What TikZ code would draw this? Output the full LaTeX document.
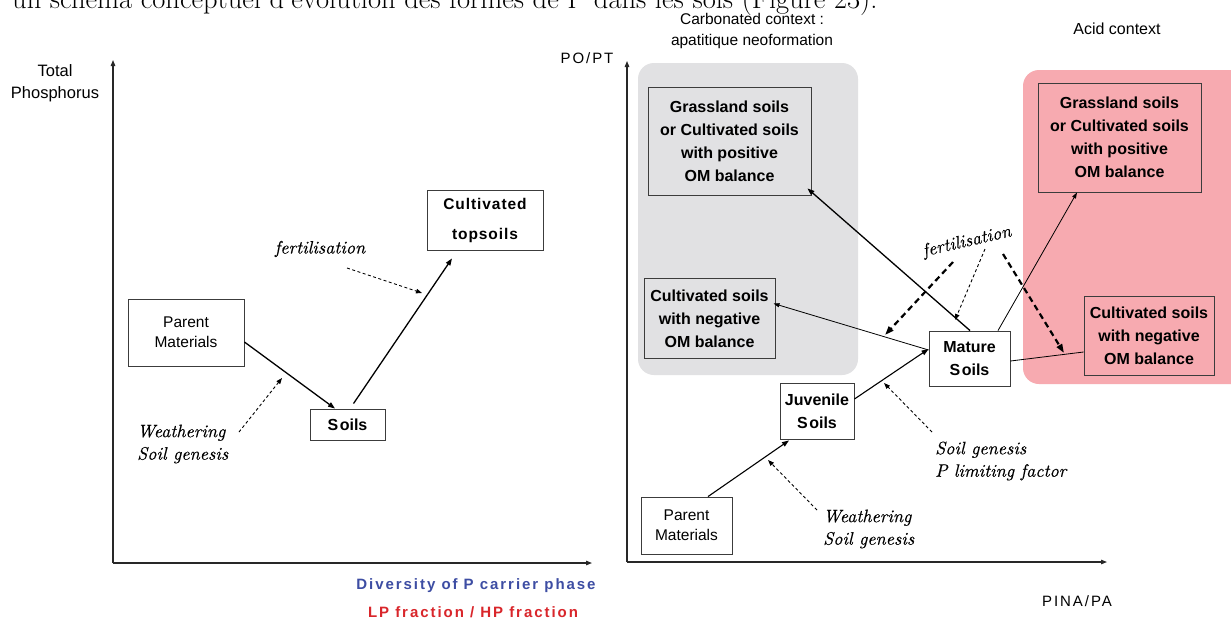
\documentclass[tikz,border=0pt]{standalone}
\usepackage{fontspec}
\usetikzlibrary{arrows.meta}
\newfontfamily\arialf{Liberation Sans}
\newfontfamily\arialls[LetterSpace=13]{Liberation Sans}
\newfontfamily\arialbls[LetterSpace=6]{Liberation Sans}
\newfontfamily\itf[FakeBold=0.3]{lmroman10-italic.otf}
\definecolor{greyreg}{RGB}{225,225,227}
\definecolor{pinkreg}{RGB}{247,170,176}
\definecolor{boxc}{RGB}{60,60,60}
\definecolor{axisc}{RGB}{40,40,40}
\definecolor{bluet}{RGB}{61,77,163}
\definecolor{redt}{RGB}{217,38,43}
\tikzset{
  box/.style={draw=boxc, line width=0.9pt, inner sep=0pt, align=center, text=black},
  wbox/.style={box, fill=white},
  bt/.style={font={\arialf\bfseries\fontsize{16}{23}\selectfont}},
  rt/.style={font={\arialf\fontsize{15.5}{20}\selectfont}},
  lab/.style={font={\arialf\fontsize{16}{21}\selectfont}, align=center, inner sep=0pt},
  it/.style={font={\itf\fontsize{18}{22.5}\selectfont}, align=left, inner sep=0pt},
  axis/.style={draw=axisc, line width=1.2pt, -{Triangle[length=6pt,width=4.5pt]}},
  conn/.style={draw=black, line width=1.3pt, -{Triangle[length=7pt,width=5pt]}},
  thin/.style={draw=black, line width=0.8pt, -{Triangle[length=6pt,width=4pt]}},
  dsh/.style={draw=black, line width=0.9pt, dash pattern=on 3pt off 2.5pt, -{Triangle[length=6pt,width=4.5pt]}},
  tdsh/.style={draw=black, line width=2.2pt, dash pattern=on 6pt off 4pt, -{Triangle[length=9pt,width=6pt]}},
  region/.style={rounded corners=16pt, draw=none}
}
\begin{document}
\begin{tikzpicture}[x=1pt,y=-1pt]
\useasboundingbox (0,0) rectangle (1231,619);
\clip (0,0) rectangle (1231,619);
\fill[white] (0,0) rectangle (1231,619);
% cut-off caption line at the top
\node[anchor=base west, inner sep=0pt, font={\fontsize{28.5}{32}\selectfont}] (cap) at (12,8) {un schéma conceptuel d'évolution des formes de P dans les sols (Figure 23).};
% regions
\path[region, fill=greyreg] (638,63) rectangle (858,375);
\path[region, fill=pinkreg] (1023,70) rectangle (1250,384);
% ---------------- left panel ----------------
\coordinate (lo) at (113,563);
\coordinate (ly) at (113,60);
\coordinate (lx) at (592,563);
\draw[axis] (lo) -- (ly);
\draw[axis] (lo) -- (lx);
\node[lab, font={\arialf\fontsize{16.5}{22}\selectfont}] (ltp) at (55,83) {Total\\Phosphorus};
\node[wbox, rt, minimum width=116pt, minimum height=67pt] (lpm) at (186,332.5) {Parent\\Materials};
\node[wbox, bt, minimum width=75pt, minimum height=31pt] (lsoils) at (347.5,424.5) {S\kern1.5pt oils};
\node[wbox, font={\arialbls\bfseries\fontsize{15.5}{30}\selectfont}, minimum width=116pt, minimum height=60pt] (lcult) at (485,220) {Cultivated\\topsoils};
\draw[conn] ([yshift=-9.5pt]lpm.east) -- ([xshift=-12.5pt]lsoils.north);
\draw[conn] ([xshift=6pt,yshift=5pt]lsoils.north) -- ([xshift=-33pt,yshift=-8pt]lcult.south);
\node[it] (lfert) at (320,249) {fertilisation};
\coordinate (lf1) at (347,268);
\coordinate (lf2) at (422,293);
\draw[dsh] (lf1) -- (lf2);
\node[it, anchor=west] (lweath) at (137,444) {Weathering\\Soil genesis};
\coordinate (lw1) at (239,432);
\coordinate (lw2) at (282,378);
\draw[dsh] (lw1) -- (lw2);
\node[font={\arialls\bfseries\fontsize{15}{18}\selectfont}, text=bluet, inner sep=0pt] (ldiv) at (476,586) {Diversity of P carrier phase};
\node[font={\arialls\bfseries\fontsize{15}{18}\selectfont}, text=redt, inner sep=0pt] (llp) at (473,612) {LP fraction / HP fraction};
% ---------------- right panel ----------------
\coordinate (ro) at (627,562);
\coordinate (ry) at (627,61);
\coordinate (rx) at (1107,562);
\draw[axis] (ro) -- (ry);
\draw[axis] (ro) -- (rx);
\node[font={\arialls\fontsize{15}{18}\selectfont}, inner sep=0pt] (rpo) at (587,58) {PO/PT};
\node[font={\arialls\fontsize{15}{18}\selectfont}, inner sep=0pt] (rpina) at (1077,601) {PINA/PA};
\node[lab, font={\arialf\fontsize{15.5}{21}\selectfont}] (rcarb) at (752,30.5) {Carbonated context :\\apatitique neoformation};
\node[lab, font={\arialf\fontsize{16}{21}\selectfont}] (racid) at (1117,29) {Acid context};
\node[box, bt, minimum width=163pt, minimum height=108pt] (rgG) at (729.5,141) {Grassland soils\\or Cultivated soils\\with positive\\OM balance};
\node[box, bt, minimum width=131pt, minimum height=80pt] (rgC) at (709.5,318.5) {Cultivated soils\\with negative\\OM balance};
\node[box, bt, minimum width=163pt, minimum height=109pt] (raG) at (1119.5,137.5) {Grassland soils\\or Cultivated soils\\with positive\\OM balance};
\node[box, bt, minimum width=130pt, minimum height=79pt] (raC) at (1149,335.5) {Cultivated soils\\with negative\\OM balance};
\node[wbox, bt, minimum width=81pt, minimum height=55pt] (rM) at (969.5,358.5) {Mature\\S\kern1.5pt oils};
\node[wbox, bt, minimum width=74pt, minimum height=56pt] (rJ) at (817,411) {Juvenile\\S\kern1.5pt oils};
\node[wbox, rt, minimum width=91pt, minimum height=57pt] (rP) at (686.5,525.5) {Parent\\Materials};
\draw[conn, line width=1.1pt] ([xshift=21.5pt]rP.north) -- ([xshift=-28pt,yshift=-1pt]rJ.south);
\draw[conn, line width=1.1pt] ([yshift=12pt]rJ.east) -- ([yshift=9.5pt]rM.west);
\draw[conn] ([xshift=0.5pt]rM.north) -- ([xshift=-4pt,yshift=7pt]rgG.south east);
\draw[thin] ([yshift=8.5pt]rM.west) -- ([xshift=-2pt,yshift=15pt]rgC.east);
\draw[thin] ([xshift=28.5pt]rM.north) -- ([xshift=-42.5pt]raG.south);
\draw[draw=black, line width=0.8pt] ([yshift=-2.5pt]rM.east) -- ([yshift=-16.5pt]raC.west);
\node[it, rotate=13] (rfert) at (967,242) {fertilisation};
\coordinate (f1a) at (953,262);
\coordinate (f1b) at (885,335);
\coordinate (f2a) at (985,249);
\coordinate (f2b) at (955,320);
\coordinate (f3a) at (1003,254);
\coordinate (f3b) at (1064,353);
\draw[tdsh] (f1a) -- (f1b);
\draw[dsh] (f2a) -- (f2b);
\draw[tdsh] (f3a) -- (f3b);
\node[it, anchor=west] (rweath) at (823,529) {Weathering\\Soil genesis};
\coordinate (rw1) at (817,510);
\coordinate (rw2) at (768,460);
\draw[dsh] (rw1) -- (rw2);
\node[it, anchor=west] (rsg) at (935,461) {Soil genesis\\P limiting factor};
\coordinate (rs1) at (932,432);
\coordinate (rs2) at (884,383);
\draw[dsh] (rs1) -- (rs2);
\end{tikzpicture}
\end{document}
